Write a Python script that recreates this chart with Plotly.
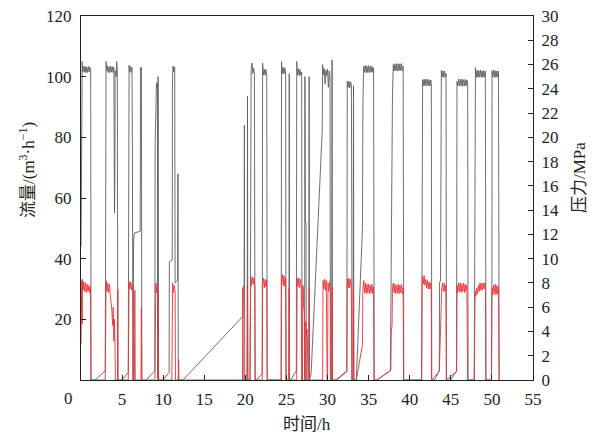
import plotly.graph_objects as go

# ---- data ----
flow_t = [
    0.00, 0.04, 0.08, 0.11, 0.15, 0.20, 0.30, 0.40, 0.50, 0.60, 0.70, 0.80, 0.90, 1.00, 1.10, 1.18, 1.22, 1.70, 2.95,
    3.00, 3.05, 3.10, 3.20, 3.30, 3.40, 3.50, 3.60, 3.70, 3.80, 3.90, 4.00, 4.05, 4.08, 4.12, 4.15, 4.30, 4.35, 4.42, 4.48, 5.00, 5.75,
    5.80, 5.85, 5.90, 6.00, 6.10, 6.20, 6.25, 6.30, 6.33, 6.40, 6.50, 7.20, 7.25, 7.30, 7.35, 7.40, 7.90, 8.98,
    9.02, 9.05, 9.08, 9.12, 9.18, 9.24, 9.30, 9.33, 9.38, 9.42, 10.00, 10.72,
    10.75, 11.10, 11.13, 11.20, 11.30, 11.40, 11.45, 11.75, 11.80, 11.84, 12.40, 19.70,
    19.75, 19.85, 19.88, 19.92, 20.22, 20.26, 20.30, 20.58, 20.62, 20.70, 20.80, 20.90, 21.00, 21.10, 21.18, 21.30, 22.05,
    22.10, 22.20, 22.30, 22.40, 22.50, 22.60, 22.66, 24.36,
    24.40, 24.50, 24.60, 24.70, 24.80, 24.90, 24.95, 25.30, 25.34, 25.38, 25.50, 26.20,
    26.25, 26.35, 26.45, 26.55, 26.65, 26.75, 26.85, 26.90, 27.20, 27.25, 27.30, 27.38, 27.42, 27.72, 27.76, 27.80, 28.00, 29.35,
    29.40, 29.50, 29.60, 29.70, 29.80, 29.90, 30.00, 30.10, 30.20, 30.30, 30.35, 30.50, 30.55, 30.60, 31.00, 32.35,
    32.40, 32.50, 32.60, 32.70, 32.80, 32.90, 32.95, 32.98, 33.12, 33.16, 33.20, 33.50, 34.25, 34.30,
    34.40, 34.50, 34.60, 34.70, 34.80, 34.90, 35.00, 35.10, 35.20, 35.30, 35.40, 35.50, 35.60, 35.68, 36.00, 37.65, 37.85, 37.90,
    38.00, 38.10, 38.20, 38.30, 38.40, 38.50, 38.60, 38.70, 38.80, 38.90, 39.00, 39.10, 39.20, 39.28, 41.45, 41.50, 41.53, 41.57,
    41.65, 41.75, 41.85, 41.95, 42.05, 42.15, 42.25, 42.35, 42.45, 42.55, 42.63, 42.68, 43.00, 43.60, 43.63, 43.75, 43.85,
    43.95, 44.05, 44.15, 44.25, 44.35, 44.42, 44.47, 45.00, 45.70,
    45.75, 45.85, 45.95, 46.05, 46.15, 46.25, 46.35, 46.45, 46.55, 46.65, 46.75, 46.85, 46.95, 47.05, 47.10, 47.85, 47.90, 47.95, 48.00,
    48.10, 48.20, 48.30, 48.40, 48.50, 48.60, 48.70, 48.80, 48.90, 49.00, 49.10, 49.20, 49.28, 49.95, 50.00, 50.02,
    50.10, 50.20, 50.30, 50.40, 50.50, 50.60, 50.70, 50.80, 50.88,
]
flow_v = [
    44, 62, 85, 100, 105, 101.5, 103.3, 101.5, 103.5, 101.3, 103.2, 101.4, 103.4, 101.5, 103.1, 102.0, 0, 0, 3,
    100, 105, 102, 103.6, 101.4, 103.3, 101.3, 103.5, 101.5, 103.3, 101.4, 103.1, 70, 55, 64, 102, 100, 105, 102, 0, 0, 2.5,
    100, 103.8, 101.5, 103.3, 101.4, 103.1, 80, 30, 0, 46, 48.5, 49, 103, 102.5, 103, 0, 0, 3,
    78, 86, 80, 96, 98, 96.5, 97.5, 0, 100, 0, 0, 2.5,
    39, 39.5, 100, 103.5, 101.5, 103.2, 32, 33, 68, 0, 0, 21,
    31, 31, 84, 0, 0, 93.5, 0, 0, 101, 102, 104.5, 101.0, 102.8, 101.2, 0, 0, 2,
    104.5, 100.5, 102.5, 100.4, 102.3, 100.6, 0, 0,
    105, 101.0, 103.1, 100.9, 102.9, 101.2, 0, 0, 101, 0, 0, 3,
    105, 100.5, 102.6, 100.3, 102.4, 100.5, 101.5, 0, 0, 100, 52, 52, 0, 0, 100, 0, 2, 82,
    104, 100.7, 102.7, 97.5, 102.1, 100.3, 102.5, 96.5, 101.9, 100.6, 0, 0, 105.5, 0, 0, 3,
    98.5, 96.5, 98.5, 96.3, 98.3, 97.2, 55, 0, 0, 97, 0, 0, 50, 91,
    103.5, 101.5, 103.7, 101.3, 103.5, 101.4, 103.6, 101.3, 103.4, 101.5, 103.5, 101.4, 102.9, 0, 0, 3, 88, 94,
    104, 101.9, 104.3, 102.0, 104.2, 101.8, 104.3, 101.9, 104.2, 102.0, 104.3, 101.9, 103.5, 0, 0, 35, 37, 99,
    97.0, 99.2, 96.9, 99.1, 97.1, 99.2, 97.0, 99.0, 96.9, 98.9, 97.8, 0, 0, 3, 32, 33, 102,
    99.9, 101.9, 99.7, 101.8, 100.0, 101, 0, 0, 3,
    98.5, 97.0, 99.2, 96.9, 99.1, 97.0, 99.2, 96.8, 99.0, 97.0, 99.1, 96.9, 98.9, 97.8, 0, 0, 33, 35, 103,
    99.8, 102.1, 99.7, 102.0, 99.9, 102.2, 99.8, 101.9, 99.7, 102.0, 99.9, 101.8, 0, 0, 34, 102,
    99.9, 102.1, 99.8, 102.0, 99.7, 101.9, 99.9, 101.8, 0,
]

pres_t = [
    0.00, 0.04, 0.07, 0.10, 0.14, 0.18, 0.25, 0.35, 0.45, 0.55, 0.65, 0.75, 0.85, 0.95, 1.05, 1.15, 1.20,
    2.95, 3.00, 3.05, 3.15, 3.25, 3.35, 3.45, 3.55, 3.65, 3.75, 3.85, 3.92, 4.00, 4.08, 4.14, 4.18, 4.45, 4.48, 4.50,
    5.75, 5.80, 5.85, 5.95, 6.05, 6.15, 6.25, 6.32, 6.36, 6.50, 6.55, 6.60, 7.30, 7.35, 7.40,
    9.00, 9.03, 9.10, 9.20, 9.30, 9.40, 9.45,
    11.05, 11.10, 11.15, 11.25, 11.35, 11.45, 11.50, 11.85, 11.88, 11.91,
    19.65, 19.70, 19.75, 20.20, 20.25, 20.30, 20.55, 20.60, 20.65, 20.75, 20.85, 20.95, 21.05, 21.15, 21.20,
    22.05, 22.10, 22.20, 22.30, 22.40, 22.50, 22.60, 22.65,
    24.35, 24.40, 24.50, 24.60, 24.70, 24.80, 24.90, 24.95, 25.30, 25.32, 25.35,
    26.25, 26.30, 26.40, 26.50, 26.60, 26.70, 26.80, 26.85, 26.95, 27.00, 27.05, 27.10, 27.20, 27.25,
    27.30, 27.35, 27.40, 27.50, 27.55, 27.60, 27.75, 27.78, 27.80,
    29.40, 29.45, 29.55, 29.65, 29.75, 29.85, 29.95, 30.00, 30.05, 30.15, 30.25, 30.35, 30.40, 30.55, 30.58, 30.60,
    31.10, 32.35, 32.40, 32.50, 32.60, 32.70, 32.80, 32.88, 32.92, 32.95, 33.10, 33.15, 33.20,
    33.50, 34.25, 34.30, 34.40, 34.50, 34.60, 34.70, 34.80, 34.90, 35.00, 35.10, 35.20, 35.30, 35.40, 35.50, 35.60, 35.65,
    36.00, 37.70, 37.75, 37.85, 37.90, 38.00, 38.10, 38.20, 38.30, 38.40, 38.50, 38.60, 38.70, 38.80, 38.90, 39.00, 39.10, 39.20, 39.25,
    41.45, 41.50, 41.55, 41.65, 41.75, 41.85, 41.95, 42.05, 42.15, 42.25, 42.35, 42.45, 42.55, 42.62, 42.65,
    43.60, 43.65, 43.70, 43.75, 43.85, 43.90, 44.00, 44.10, 44.20, 44.30, 44.40, 44.45,
    45.70, 45.75, 45.85, 45.95, 46.05, 46.15, 46.25, 46.35, 46.45, 46.55, 46.65, 46.75, 46.85, 46.95, 47.05,
    47.85, 47.90, 47.95, 48.05, 48.15, 48.25, 48.35, 48.45, 48.55, 48.65, 48.75, 48.85, 48.95, 49.05, 49.15, 49.22, 49.25,
    49.95, 50.00, 50.10, 50.20, 50.30, 50.40, 50.50, 50.60, 50.70, 50.80, 50.88,
]
pres_v = [
    3.0, 5.0, 3.4, 8.2, 4.6, 8.3, 7.4, 8.1, 7.3, 8.0, 7.2, 7.9, 7.3, 7.8, 7.2, 7.7, 0,
    0, 7.0, 8.2, 7.3, 8.0, 7.2, 7.9, 7.1, 6.5, 5.8, 4.5, 6.0, 3.2, 5.0, 2.8, 0, 0, 7.5, 0,
    0, 7.5, 8.1, 7.5, 8.1, 7.4, 7.9, 7.5, 0, 0, 7.4, 0, 0, 6.0, 0,
    0, 7.6, 8.0, 7.2, 7.9, 7.3, 0,
    0, 7.6, 8.0, 7.2, 7.8, 7.3, 0, 0, 1.7, 0,
    0, 7.6, 0, 0, 7.8, 0, 0, 7.8, 8.5, 7.8, 8.5, 7.9, 8.4, 7.7, 0,
    0, 8.0, 8.4, 7.6, 8.3, 7.7, 8.2, 0,
    0, 8.3, 8.7, 7.8, 8.6, 7.7, 8.4, 0, 0, 7.6, 0,
    0, 8.4, 7.7, 8.4, 7.6, 8.3, 7.8, 0, 0, 7.8, 7.5, 6.0, 5.5, 0,
    0, 4.8, 3.6, 4.2, 3.5, 0, 0, 7.5, 0,
    0, 8.2, 7.5, 8.3, 7.4, 8.2, 0, 0, 8.0, 7.3, 8.1, 7.4, 0, 0, 7.6, 0,
    0, 0.7, 8.3, 7.6, 8.4, 7.6, 8.3, 7.8, 5.6, 0, 0, 7.6, 0,
    0, 2.9, 7.5, 8.2, 7.2, 8.0, 7.1, 7.9, 7.2, 7.9, 7.1, 7.8, 7.2, 7.9, 7.1, 7.7, 0,
    0, 0.8, 4.0, 4.5, 7.5, 8.0, 7.2, 7.9, 7.1, 7.8, 7.2, 7.9, 7.1, 7.8, 7.2, 7.9, 7.1, 7.6, 0,
    0, 7.8, 8.5, 7.9, 8.6, 7.8, 8.3, 7.6, 8.2, 7.5, 8.1, 7.5, 8.0, 7.6, 0,
    0.7, 2.5, 3.2, 5.0, 6.5, 7.6, 8.0, 7.3, 8.0, 7.3, 7.8, 0,
    0.7, 7.8, 7.2, 8.0, 7.3, 8.0, 7.2, 7.9, 7.3, 8.0, 7.2, 7.9, 7.3, 7.8, 0,
    0, 7.0, 7.3, 6.9, 7.6, 7.1, 7.8, 7.3, 8.0, 7.4, 8.0, 7.4, 8.0, 7.5, 8.0, 7.6, 0,
    0, 7.6, 7.0, 7.8, 7.1, 7.9, 7.0, 7.8, 7.1, 7.7, 0,
]

x_ticks = [0, 5, 10, 15, 20, 25, 30, 35, 40, 45, 50, 55]
x_ticktext = ["", "5", "10", "15", "20", "25", "30", "35", "40", "45", "50", "55"]
yl_ticks = [20, 40, 60, 80, 100, 120]
yr_ticks = [0, 2, 4, 6, 8, 10, 12, 14, 16, 18, 20, 22, 24, 26, 28, 30]

FONT = "Liberation Serif, Times New Roman, serif"
CJK_FONT = "Liberation Serif, Noto Sans CJK SC, serif"
ML, MR, MT, MB = 81, 68, 16, 57
W, H = 601, 437

fig = go.Figure()
fig.add_trace(go.Scatter(x=flow_t, y=flow_v, mode="lines",
                         line=dict(color="#5f5f5f", width=0.9), yaxis="y",
                         showlegend=False, hoverinfo="skip"))
fig.add_trace(go.Scatter(x=pres_t, y=pres_v, mode="lines",
                         line=dict(color="#e8353b", width=0.9), yaxis="y2",
                         showlegend=False, hoverinfo="skip"))

axis_common = dict(showgrid=False, zeroline=False, showline=True, linecolor="#222",
                   linewidth=1.2, ticks="inside", ticklen=5, tickcolor="#222",
                   tickwidth=1, automargin=False,
                   tickfont=dict(family=FONT, size=17, color="#222"))

def px_to_paper(xp, yp):
    return (xp - ML) / (W - ML - MR), (H - MB - yp) / (H - MT - MB)

lx, ly = px_to_paper(27, 170)
rx, ry = px_to_paper(579, 178)
tx, ty = px_to_paper(307, 424)

title_font = dict(family=CJK_FONT, size=17, color="#222")

fig.update_layout(
    width=W, height=H,
    margin=dict(l=ML, r=MR, t=MT, b=MB, autoexpand=False),
    paper_bgcolor="white", plot_bgcolor="white",
    xaxis=dict(range=[0, 55], tickvals=x_ticks, ticktext=x_ticktext, mirror=True,
               ticklabelstandoff=3, **axis_common),
    yaxis=dict(range=[0, 120], tickvals=yl_ticks, ticklabelstandoff=5, **axis_common),
    yaxis2=dict(range=[0, 30], tickvals=yr_ticks, overlaying="y", side="right",
                ticklabelstandoff=4, **axis_common),
    annotations=[
        dict(text="0", x=0, y=0, xref="x", yref="y", xanchor="right", yanchor="top",
             xshift=-6, yshift=-7, showarrow=False, font=dict(family=FONT, size=17, color="#222")),
        dict(text="时间/h", x=tx, y=ty, xref="paper", yref="paper",
             xanchor="center", yanchor="middle", showarrow=False, font=title_font),
        dict(text="流量/(m<sup>3</sup>·h<sup>−1</sup>)", x=lx, y=ly, xref="paper", yref="paper",
             xanchor="center", yanchor="middle", showarrow=False, textangle=-90, font=title_font),
        dict(text="压力/MPa", x=rx, y=ry, xref="paper", yref="paper",
             xanchor="center", yanchor="middle", showarrow=False, textangle=-90, font=title_font),
    ],
)

fig.write_html("out.html", config={"displayModeBar": False},
               post_script="document.body.style.margin='0';")
